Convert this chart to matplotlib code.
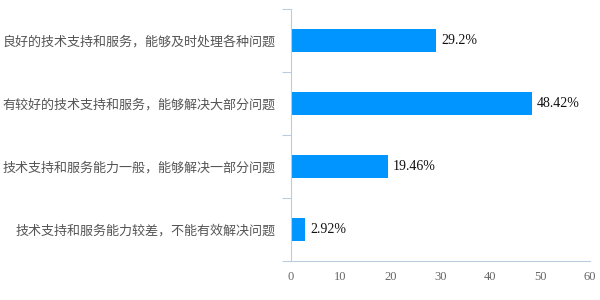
import matplotlib
matplotlib.use("Agg")
import matplotlib.pyplot as plt
import numpy as np

# categories listed bottom to top
categories = [
    "技术支持和服务能力较差，不能有效解决问题",
    "技术支持和服务能力一般，能够解决一部分问题",
    "有较好的技术支持和服务，能够解决大部分问题",
    "良好的技术支持和服务，能够及时处理各种问题",
]
values = [2.92, 19.46, 48.42, 29.2]
value_labels = ["2.92%", "19.46%", "48.42%", "29.2%"]
x_ticks = [0, 10, 20, 30, 40, 50, 60]

bar_color = "#0095ff"
axis_color = "#bccbe0"

fig = plt.figure(figsize=(6, 3), dpi=100)
ax = fig.add_axes([0.4842, 0.13, 0.4992, 0.84])

y = np.arange(len(categories))
ax.barh(y, values, height=0.36, color=bar_color)

for yi, v, lab in zip(y, values, value_labels):
    ax.text(v + 1.0, yi, lab, va="center", ha="left", fontsize=10,
            family=["Liberation Serif", "DejaVu Serif"], color="#111111")

ax.set_xlim(0, 60)
ax.set_ylim(-0.5, len(categories) - 0.5)
ax.set_xticks(x_ticks)
ax.set_xticklabels([str(t) for t in x_ticks], fontsize=9,
                   family=["Liberation Serif", "DejaVu Serif"], color="#666666")
ax.tick_params(axis="x", length=0, pad=7)

ax.set_yticks(y)
ax.set_yticklabels(categories, fontsize=9.4,
                   family=["Noto Sans CJK SC", "DejaVu Sans"], color="#555555")
ax.tick_params(axis="y", which="major", length=0, pad=11)
ax.set_yticks(np.arange(-0.5, len(categories)), minor=True)
ax.tick_params(axis="y", which="minor", length=6.5, width=0.8, color=axis_color)

for side in ["top", "right"]:
    ax.spines[side].set_visible(False)
for side in ["left", "bottom"]:
    ax.spines[side].set_color(axis_color)
    ax.spines[side].set_linewidth(0.8)

fig.savefig("out.png", dpi=100)
